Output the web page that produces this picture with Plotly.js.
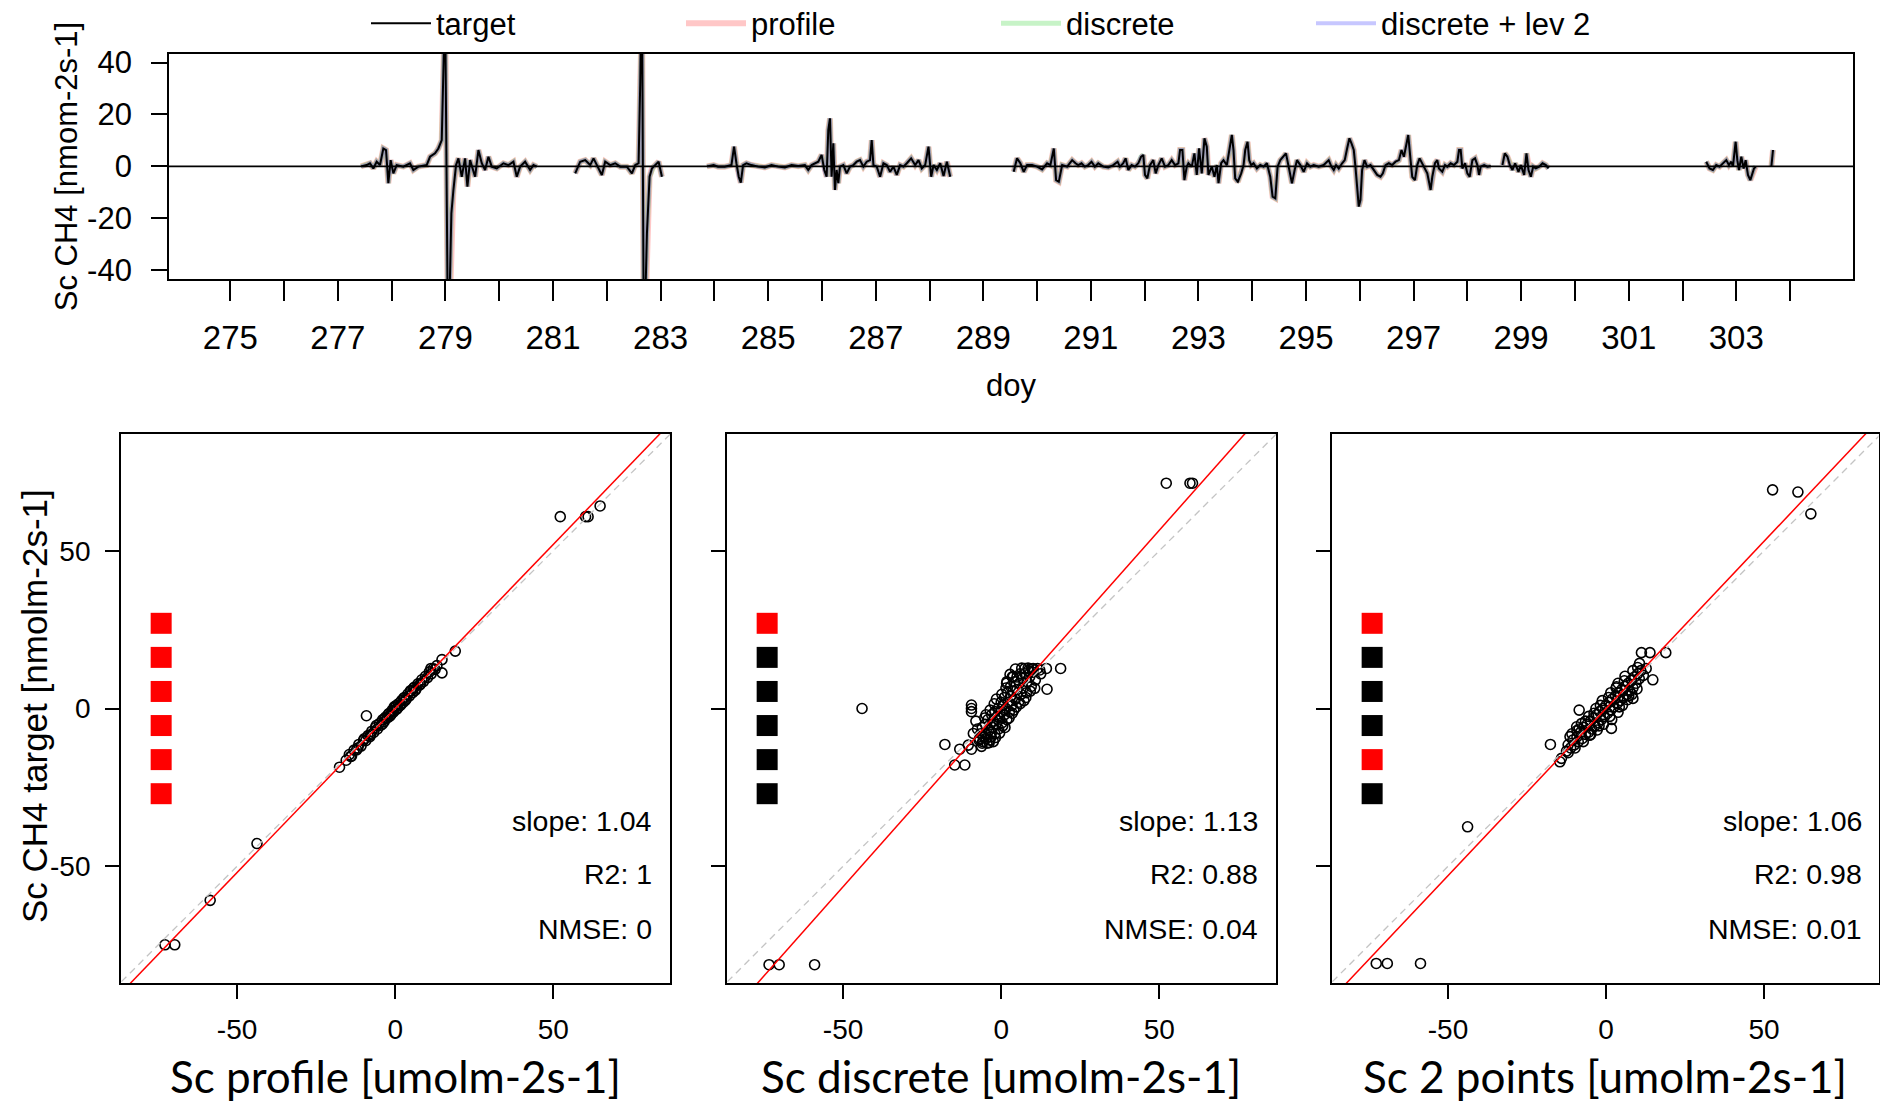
<!DOCTYPE html>
<html><head><meta charset="utf-8">
<script src="https://cdn.plot.ly/plotly-3.0.1.min.js"></script>
<style>html,body{margin:0;padding:0;background:#fff;}#chart{width:1880px;height:1105px;}</style>
</head><body><div id="chart"></div>
<script>
// ---------- time series (top panel) ----------
const doy = [
277.43,277.535,277.597,277.659,277.721,277.783,277.845,277.895,277.938,277.981,
278.031,278.093,278.217,278.341,278.403,278.496,278.651,278.713,278.806,278.868,
278.931,278.962,278.98,278.993,279.05,279.068,279.086,279.11,279.148,279.197,
279.241,279.303,279.365,279.408,279.458,279.551,279.613,279.675,279.737,279.799,
279.861,279.954,280.078,280.171,280.264,280.326,280.388,280.481,280.574,280.636,
280.698,null,
281.412,281.505,281.598,281.691,281.753,281.846,281.908,281.97,282.063,282.156,
282.249,282.373,282.467,282.529,282.591,282.622,282.64,282.655,282.69,282.72,
282.746,282.795,282.839,282.87,282.963,283.025,null,
283.862,283.986,284.068,284.193,284.317,284.366,284.41,284.453,284.491,284.534,
284.596,284.689,284.814,284.938,285.062,285.186,285.311,285.435,285.559,285.683,
285.745,285.807,285.932,285.994,286.043,286.087,286.118,286.149,286.18,286.211,
286.242,286.273,286.304,286.335,286.398,286.46,286.522,286.584,286.646,286.708,
286.77,286.832,286.894,286.925,286.957,287.019,287.081,287.143,287.205,287.267,
287.329,287.391,287.453,287.516,287.578,287.658,287.733,287.795,287.857,287.919,
287.981,288.031,288.075,288.137,288.199,288.261,288.323,288.385,null,
289.565,289.627,289.689,289.752,289.814,289.907,290.0,290.093,290.186,290.248,
290.311,290.354,290.404,290.466,290.559,290.652,290.714,290.764,290.826,290.888,
290.95,291.012,291.075,291.137,291.23,291.323,291.416,291.497,291.54,291.602,
291.646,291.696,291.758,291.82,291.882,291.932,291.975,292.006,292.05,292.099,
292.161,292.205,292.255,292.317,292.379,292.441,292.503,292.565,292.627,292.658,
292.702,292.739,292.783,292.814,292.876,292.925,292.969,293.012,293.062,293.112,
293.155,293.186,293.248,293.298,293.342,293.373,293.422,293.466,293.528,293.571,
293.621,293.652,293.683,293.733,293.795,293.839,293.87,293.913,293.944,293.981,
294.025,294.087,294.149,294.211,294.273,294.335,294.379,294.429,294.472,294.522,
294.584,294.627,294.677,294.739,294.789,294.832,294.894,294.957,295.019,295.081,
295.143,295.236,295.329,295.422,295.472,295.516,295.559,295.609,295.671,295.72,
295.764,295.807,295.845,295.888,295.919,295.95,295.981,296.012,296.043,296.087,
296.137,296.199,296.261,296.323,296.385,296.429,296.478,296.54,296.602,296.665,
296.727,296.776,296.82,296.863,296.901,296.944,296.975,297.025,297.068,297.112,
297.161,297.211,297.255,297.317,297.348,297.398,297.441,297.472,297.534,297.584,
297.627,297.689,297.752,297.814,297.845,297.876,297.907,297.957,298.0,298.043,
298.093,298.143,298.186,298.217,298.248,298.311,298.373,298.435,null,
298.652,298.696,298.745,298.789,298.839,298.888,298.95,298.994,299.056,299.099,
299.137,299.18,299.224,299.273,299.335,299.398,299.46,299.509,null,
302.441,302.503,302.565,302.627,302.689,302.752,302.814,302.863,302.907,302.938,
302.988,303.019,303.05,303.093,303.137,303.174,303.217,303.261,303.298,303.329,
303.36,null,303.652,303.683
];
const target = [
0,0.5,1.2,-0.8,1.8,0.5,6.9,6.3,-6.5,2.4,
-2.7,0.5,-0.1,1.2,-1.4,-0.1,0.5,3.7,5.0,6.9,
10.1,37.1,60.5,64.2,-74.9,-60.8,-42.8,-18.1,-9.1,0.5,
3.1,-4.0,3.1,-7.8,2.4,-4.0,6.3,1.2,-1.4,3.7,
-0.1,-0.8,1.2,0.5,1.8,-4.0,-0.1,1.8,-1.4,0.5,
-0.1,null,
-2.7,1.8,2.4,0.5,3.1,-0.8,-3.3,1.8,0.5,1.2,
-0.1,-0.1,-2.7,0.5,1.2,32.6,60.5,60.8,-74.9,-48,
-25.8,-4.0,-0.8,-0.1,1.8,-4.0,null,
0,0.5,-0.1,-0.1,0.5,7.6,1.2,-4.0,-6.3,0.5,
1.2,0.5,-0.1,-0.4,0.5,-0.1,-0.4,0.5,0.1,0.5,
-1.4,0.5,1.8,4.4,-1.4,-4.0,14.0,18.5,-4.0,8.9,
-9.1,-1.4,-6.5,-0.1,0.5,-2.7,-0.1,0.5,1.8,2.4,
-0.1,1.8,2.4,10.1,0.5,-0.1,-4.0,1.2,0.5,-2.1,
-0.1,-3.3,0.5,-0.1,1.2,3.1,0.5,2.4,-0.8,0.5,
7.6,-4.0,0.5,-1.4,1.2,-3.7,1.8,-4.0,null,
-2.1,3.1,1.2,-2.1,0.5,0.5,-0.1,-1.2,1.2,0.5,
6.9,-5.3,-5.9,0.5,-0.1,2.4,1.2,0.5,1.2,-0.1,
0.5,1.8,-0.1,1.2,-0.1,-0.4,0.5,1.8,-0.1,1.2,
3.1,-1.4,0.5,-0.1,1.2,3.7,4.4,-3.3,-4.6,0.5,
2.4,-2.7,0.5,3.1,-0.1,0.5,2.4,0.5,1.2,6.3,
6.3,-5.3,-0.1,1.2,-0.1,5.0,-3.3,6.9,-2.7,10.8,
7.6,-3.3,-0.1,-4.0,0.5,-6.5,1.2,2.4,0.5,6.3,
12.1,6.3,-4.6,-5.9,-2.7,0.5,6.3,9.5,2.4,0.5,
1.2,-0.8,0.5,-0.1,1.2,-4.0,-11.7,-12.3,-0.1,2.4,
3.7,5.0,-0.1,-6.5,-1.4,2.4,0.5,-2.1,1.2,-0.1,
0.5,-0.1,0.5,2.4,-0.1,-1.4,0.5,-0.8,1.2,2.4,
6.9,10.8,8.9,6.3,-0.1,-6.5,-15.5,-13.0,-1.4,2.4,
-0.1,0.5,-1.4,-3.3,-4.0,-2.7,0.5,1.2,0.5,1.8,
2.4,6.3,3.7,7.6,12.1,2.4,-4.0,-5.3,0.5,3.1,
1.2,-0.8,-2.7,-9.1,-4.0,1.2,2.4,-0.8,-2.1,0.5,
-0.1,1.2,0.5,1.8,6.3,6.3,-0.8,1.2,-2.7,-4.0,
2.4,3.1,0.5,-3.3,-0.1,0.5,-0.1,0.1,null,
0.5,5.0,3.7,0.5,-1.4,1.2,-2.1,0.5,-3.3,5.0,
-1.4,-4.0,-0.1,-0.8,-0.1,1.2,0.5,-0.8,null,
1.8,-0.8,-1.4,0.5,-0.1,1.2,2.4,0.5,1.8,-0.1,
9.5,2.4,-1.4,3.7,-0.8,2.4,-3.3,-5.3,-2.7,-0.8,
-0.1,null,-0.1,6.3
];
// the three estimates are indistinguishable from the target at this scale
const profile = [
0,0.5,1.2,-0.8,1.8,0.5,6.9,6.3,-6.5,2.4,
-2.7,0.5,-0.1,1.2,-1.4,-0.1,0.5,3.7,5.0,6.9,
10.1,37.1,60.5,64.2,-74.9,-60.8,-42.8,-18.1,-9.1,0.5,
3.1,-4.0,3.1,-7.8,2.4,-4.0,6.3,1.2,-1.4,3.7,
-0.1,-0.8,1.2,0.5,1.8,-4.0,-0.1,1.8,-1.4,0.5,
-0.1,null,
-2.7,1.8,2.4,0.5,3.1,-0.8,-3.3,1.8,0.5,1.2,
-0.1,-0.1,-2.7,0.5,1.2,32.6,60.5,60.8,-74.9,-48,
-25.8,-4.0,-0.8,-0.1,1.8,-4.0,null,
0,0.5,-0.1,-0.1,0.5,7.6,1.2,-4.0,-6.3,0.5,
1.2,0.5,-0.1,-0.4,0.5,-0.1,-0.4,0.5,0.1,0.5,
-1.4,0.5,1.8,4.4,-1.4,-4.0,14.0,18.5,-4.0,8.9,
-9.1,-1.4,-6.5,-0.1,0.5,-2.7,-0.1,0.5,1.8,2.4,
-0.1,1.8,2.4,10.1,0.5,-0.1,-4.0,1.2,0.5,-2.1,
-0.1,-3.3,0.5,-0.1,1.2,3.1,0.5,2.4,-0.8,0.5,
7.6,-4.0,0.5,-1.4,1.2,-3.7,1.8,-4.0,null,
-2.1,3.1,1.2,-2.1,0.5,0.5,-0.1,-1.2,1.2,0.5,
6.9,-5.3,-5.9,0.5,-0.1,2.4,1.2,0.5,1.2,-0.1,
0.5,1.8,-0.1,1.2,-0.1,-0.4,0.5,1.8,-0.1,1.2,
3.1,-1.4,0.5,-0.1,1.2,3.7,4.4,-3.3,-4.6,0.5,
2.4,-2.7,0.5,3.1,-0.1,0.5,2.4,0.5,1.2,6.3,
6.3,-5.3,-0.1,1.2,-0.1,5.0,-3.3,6.9,-2.7,10.8,
7.6,-3.3,-0.1,-4.0,0.5,-6.5,1.2,2.4,0.5,6.3,
12.1,6.3,-4.6,-5.9,-2.7,0.5,6.3,9.5,2.4,0.5,
1.2,-0.8,0.5,-0.1,1.2,-4.0,-11.7,-12.3,-0.1,2.4,
3.7,5.0,-0.1,-6.5,-1.4,2.4,0.5,-2.1,1.2,-0.1,
0.5,-0.1,0.5,2.4,-0.1,-1.4,0.5,-0.8,1.2,2.4,
6.9,10.8,8.9,6.3,-0.1,-6.5,-15.5,-13.0,-1.4,2.4,
-0.1,0.5,-1.4,-3.3,-4.0,-2.7,0.5,1.2,0.5,1.8,
2.4,6.3,3.7,7.6,12.1,2.4,-4.0,-5.3,0.5,3.1,
1.2,-0.8,-2.7,-9.1,-4.0,1.2,2.4,-0.8,-2.1,0.5,
-0.1,1.2,0.5,1.8,6.3,6.3,-0.8,1.2,-2.7,-4.0,
2.4,3.1,0.5,-3.3,-0.1,0.5,-0.1,0.1,null,
0.5,5.0,3.7,0.5,-1.4,1.2,-2.1,0.5,-3.3,5.0,
-1.4,-4.0,-0.1,-0.8,-0.1,1.2,0.5,-0.8,null,
1.8,-0.8,-1.4,0.5,-0.1,1.2,2.4,0.5,1.8,-0.1,
9.5,2.4,-1.4,3.7,-0.8,2.4,-3.3,-5.3,-2.7,-0.8,
-0.1,null,-0.1,6.3
];
const discrete = [
0,0.5,1.2,-0.8,1.8,0.5,6.9,6.3,-6.5,2.4,
-2.7,0.5,-0.1,1.2,-1.4,-0.1,0.5,3.7,5.0,6.9,
10.1,37.1,60.5,64.2,-74.9,-60.8,-42.8,-18.1,-9.1,0.5,
3.1,-4.0,3.1,-7.8,2.4,-4.0,6.3,1.2,-1.4,3.7,
-0.1,-0.8,1.2,0.5,1.8,-4.0,-0.1,1.8,-1.4,0.5,
-0.1,null,
-2.7,1.8,2.4,0.5,3.1,-0.8,-3.3,1.8,0.5,1.2,
-0.1,-0.1,-2.7,0.5,1.2,32.6,60.5,60.8,-74.9,-48,
-25.8,-4.0,-0.8,-0.1,1.8,-4.0,null,
0,0.5,-0.1,-0.1,0.5,7.6,1.2,-4.0,-6.3,0.5,
1.2,0.5,-0.1,-0.4,0.5,-0.1,-0.4,0.5,0.1,0.5,
-1.4,0.5,1.8,4.4,-1.4,-4.0,14.0,18.5,-4.0,8.9,
-9.1,-1.4,-6.5,-0.1,0.5,-2.7,-0.1,0.5,1.8,2.4,
-0.1,1.8,2.4,10.1,0.5,-0.1,-4.0,1.2,0.5,-2.1,
-0.1,-3.3,0.5,-0.1,1.2,3.1,0.5,2.4,-0.8,0.5,
7.6,-4.0,0.5,-1.4,1.2,-3.7,1.8,-4.0,null,
-2.1,3.1,1.2,-2.1,0.5,0.5,-0.1,-1.2,1.2,0.5,
6.9,-5.3,-5.9,0.5,-0.1,2.4,1.2,0.5,1.2,-0.1,
0.5,1.8,-0.1,1.2,-0.1,-0.4,0.5,1.8,-0.1,1.2,
3.1,-1.4,0.5,-0.1,1.2,3.7,4.4,-3.3,-4.6,0.5,
2.4,-2.7,0.5,3.1,-0.1,0.5,2.4,0.5,1.2,6.3,
6.3,-5.3,-0.1,1.2,-0.1,5.0,-3.3,6.9,-2.7,10.8,
7.6,-3.3,-0.1,-4.0,0.5,-6.5,1.2,2.4,0.5,6.3,
12.1,6.3,-4.6,-5.9,-2.7,0.5,6.3,9.5,2.4,0.5,
1.2,-0.8,0.5,-0.1,1.2,-4.0,-11.7,-12.3,-0.1,2.4,
3.7,5.0,-0.1,-6.5,-1.4,2.4,0.5,-2.1,1.2,-0.1,
0.5,-0.1,0.5,2.4,-0.1,-1.4,0.5,-0.8,1.2,2.4,
6.9,10.8,8.9,6.3,-0.1,-6.5,-15.5,-13.0,-1.4,2.4,
-0.1,0.5,-1.4,-3.3,-4.0,-2.7,0.5,1.2,0.5,1.8,
2.4,6.3,3.7,7.6,12.1,2.4,-4.0,-5.3,0.5,3.1,
1.2,-0.8,-2.7,-9.1,-4.0,1.2,2.4,-0.8,-2.1,0.5,
-0.1,1.2,0.5,1.8,6.3,6.3,-0.8,1.2,-2.7,-4.0,
2.4,3.1,0.5,-3.3,-0.1,0.5,-0.1,0.1,null,
0.5,5.0,3.7,0.5,-1.4,1.2,-2.1,0.5,-3.3,5.0,
-1.4,-4.0,-0.1,-0.8,-0.1,1.2,0.5,-0.8,null,
1.8,-0.8,-1.4,0.5,-0.1,1.2,2.4,0.5,1.8,-0.1,
9.5,2.4,-1.4,3.7,-0.8,2.4,-3.3,-5.3,-2.7,-0.8,
-0.1,null,-0.1,6.3
];
const discreteLev2 = [
0,0.5,1.2,-0.8,1.8,0.5,6.9,6.3,-6.5,2.4,
-2.7,0.5,-0.1,1.2,-1.4,-0.1,0.5,3.7,5.0,6.9,
10.1,37.1,60.5,64.2,-74.9,-60.8,-42.8,-18.1,-9.1,0.5,
3.1,-4.0,3.1,-7.8,2.4,-4.0,6.3,1.2,-1.4,3.7,
-0.1,-0.8,1.2,0.5,1.8,-4.0,-0.1,1.8,-1.4,0.5,
-0.1,null,
-2.7,1.8,2.4,0.5,3.1,-0.8,-3.3,1.8,0.5,1.2,
-0.1,-0.1,-2.7,0.5,1.2,32.6,60.5,60.8,-74.9,-48,
-25.8,-4.0,-0.8,-0.1,1.8,-4.0,null,
0,0.5,-0.1,-0.1,0.5,7.6,1.2,-4.0,-6.3,0.5,
1.2,0.5,-0.1,-0.4,0.5,-0.1,-0.4,0.5,0.1,0.5,
-1.4,0.5,1.8,4.4,-1.4,-4.0,14.0,18.5,-4.0,8.9,
-9.1,-1.4,-6.5,-0.1,0.5,-2.7,-0.1,0.5,1.8,2.4,
-0.1,1.8,2.4,10.1,0.5,-0.1,-4.0,1.2,0.5,-2.1,
-0.1,-3.3,0.5,-0.1,1.2,3.1,0.5,2.4,-0.8,0.5,
7.6,-4.0,0.5,-1.4,1.2,-3.7,1.8,-4.0,null,
-2.1,3.1,1.2,-2.1,0.5,0.5,-0.1,-1.2,1.2,0.5,
6.9,-5.3,-5.9,0.5,-0.1,2.4,1.2,0.5,1.2,-0.1,
0.5,1.8,-0.1,1.2,-0.1,-0.4,0.5,1.8,-0.1,1.2,
3.1,-1.4,0.5,-0.1,1.2,3.7,4.4,-3.3,-4.6,0.5,
2.4,-2.7,0.5,3.1,-0.1,0.5,2.4,0.5,1.2,6.3,
6.3,-5.3,-0.1,1.2,-0.1,5.0,-3.3,6.9,-2.7,10.8,
7.6,-3.3,-0.1,-4.0,0.5,-6.5,1.2,2.4,0.5,6.3,
12.1,6.3,-4.6,-5.9,-2.7,0.5,6.3,9.5,2.4,0.5,
1.2,-0.8,0.5,-0.1,1.2,-4.0,-11.7,-12.3,-0.1,2.4,
3.7,5.0,-0.1,-6.5,-1.4,2.4,0.5,-2.1,1.2,-0.1,
0.5,-0.1,0.5,2.4,-0.1,-1.4,0.5,-0.8,1.2,2.4,
6.9,10.8,8.9,6.3,-0.1,-6.5,-15.5,-13.0,-1.4,2.4,
-0.1,0.5,-1.4,-3.3,-4.0,-2.7,0.5,1.2,0.5,1.8,
2.4,6.3,3.7,7.6,12.1,2.4,-4.0,-5.3,0.5,3.1,
1.2,-0.8,-2.7,-9.1,-4.0,1.2,2.4,-0.8,-2.1,0.5,
-0.1,1.2,0.5,1.8,6.3,6.3,-0.8,1.2,-2.7,-4.0,
2.4,3.1,0.5,-3.3,-0.1,0.5,-0.1,0.1,null,
0.5,5.0,3.7,0.5,-1.4,1.2,-2.1,0.5,-3.3,5.0,
-1.4,-4.0,-0.1,-0.8,-0.1,1.2,0.5,-0.8,null,
1.8,-0.8,-1.4,0.5,-0.1,1.2,2.4,0.5,1.8,-0.1,
9.5,2.4,-1.4,3.7,-0.8,2.4,-3.3,-5.3,-2.7,-0.8,
-0.1,null,-0.1,6.3
];
const seriesNames = ['target', 'profile', 'discrete', 'discrete + lev 2'];
const doyTickLabels = [275, 277, 279, 281, 283, 285, 287, 289, 291, 293, 295, 297, 299, 301, 303];
const doyMinorTicks = [276, 278, 280, 282, 284, 286, 288, 290, 292, 294, 296, 298, 300, 302, 304];
const fluxTicks = [-40, -20, 0, 20, 40];
const scatterTicks = [-50, 0, 50];

// ---------- scatter panels ----------
const profileX = [52.2,60.2,61,64.8,19,14.8,14.8,11.3,-9.1,-17.6,-14.1,-43.7,-58.5,-72.8,-69.7,
-15.5,-14.5,-13.8,-13,-12.2,-11.5,-10.8,-10,-9.3,-8.6,-8,-7.4,-6.8,-6.2,-5.6,-5,-4.5,-4,-3.5,-3,
-2.5,-2,-1.5,-1,-0.5,0,0.5,1,1.5,2,2.5,3,3.5,4,4.5,5,5.5,6,6.6,7.2,7.8,8.4,9,9.6,10.2,10.8,11.4,12,12.6,13.2,
-6,-4,-2.2,-1.2,0.3,1.8,3.2,4.8,6.3,-3.3,-1.8,2.7,0.8,-0.3,5.8,8,-7.8,-9.8,-11.8];
const profileTarget = [60.8,60.8,60.8,64.2,18.2,15.5,11.3,12.7,-2.3,-18.6,-15.2,-42.8,-60.8,-74.9,-74.9,
-16.4,-14.6,-15.1,-13.2,-13.1,-11.4,-11.9,-10.1,-10.2,-8.6,-8.9,-7.2,-7.6,-6,-6.5,-4.8,-5.3,-3.6,-4.2,-2.7,
-3,-1.6,-2.1,-0.6,-1.1,0.4,-0.2,1.5,0.9,2.5,1.9,3.5,3,4.6,4,5.6,5,6.7,6.2,7.8,7.5,9.1,8.6,10.2,9.8,11.6,11,12.6,12.4,13.6,
-5.4,-4.9,-1.9,-1.8,0.9,1.2,2.6,5.6,5.7,-3.1,-2.5,3.3,0.2,0.5,6.4,7.8,-8.3,-9.6,-12.5];

const discreteX = [52.2,59.7,60.5,-73.4,-70.2,-59,-44,-17.8,-14.7,-11.5,-13.1,-9.4,-9.4,-9.4,-9.4,
14.3,18.8,14.5,10.6,7.5,10.1,12.2,-10.4,-8.8,-3.6,1.7,3.8,
-7,-6.5,-6,-6,-5.5,-5,-5,-4.5,-4.2,-4,-3.5,-3.2,-3,-2.8,-2.5,-2,-2,-1.5,-1.2,-1,-0.8,-0.5,0,0,0.3,0.6,
1,1,1.5,1.8,2,2.2,2.6,3,3,3.4,3.8,4,4.2,4.5,5,5,5.5,5.8,6,6.2,6.8,7,7.5,7.8,8.2,8.6,9,9.5,10,10.8,11.5,12.5,
-8,-7.5,-2.5,1.5,3.5,-1.5,-6.8,-4.8,
-6.2,-5.8,-4.8,-3.8,-3,-1.8,-0.5,0.5,1.2,2.5,3.5,4.8,6,7.2,8,9.2,-5.2,-3.5,-2.2,0.2,1.8,2.8,4.5,6.5,8.5,9.8];
const discreteTarget = [71.4,71.4,71.4,-81.2,-81.2,-81.2,0,-11.4,-17.9,-17.9,-12.9,-12.9,0,-1,1.1,
12.7,12.7,6.1,6.4,12.7,12.7,12.2,-11.6,-7.9,-10,8,10.1,
-10,-8,-11,-6,-9,-5,-8,-11,-3.5,-7,-5,-9,-2,-6,-4,-8,-1,-5,-2.5,0,-6.5,-3,-1,2,-4.5,1,
-2,3.5,0,-3.5,5,2,-1,4,7,1,5.5,-0.5,8.5,3,6,10,2,8,11,4.5,9.5,6.5,11,3.5,8.5,12,10,7,11.5,9,12.7,11,
-4,-6.5,-10.5,6.5,10,3,-9.5,-2,
-12,-10.5,-9.5,-10.8,-7.5,-9.2,-7.8,-5.5,-6,-3,-1.5,0.5,1.5,2.5,5,5.5,-3,-0.5,1.5,4.5,8.5,10.8,12.5,12.8,12.8,12.5];

const twoPointX = [52.7,60.7,64.8,-43.8,-72.7,-69.2,-58.7,-17.6,-8.5,14.8,18.9,13.9,11.2,-14.6,-14.1,-11.4,-9.3,1.7,3.3,10.6,12.7,8.5,
-12.5,-12,-11.2,-10.5,-10,-9.2,-8.8,-8,-7.5,-7,-6.5,-6,-5.5,-5,-4.5,-4,-3.5,-3,-2.5,-2,-1.5,-1,-0.5,0,0.5,1,1.5,2,2.5,
3,3.5,4,4.5,5,5.5,6,6.5,7,7.5,8,8.5,9,9.5,10,10.5,11,11.8,
-6.5,-3.8,-1.8,0.8,3.2,5.8,-8.5,-5.2,-2.2,1.2,4.2,7.2,-10.8,
-12,-9.8,-7.2,-4.8,-2.8,-0.8,1.8,3.8,5.2,6.8,8.2,9.8,-9.2,-7.8,-5.5,-3.2,-1.2,1.5,3.8,6,8.5,10];
const twoPointTarget = [69.3,68.6,61.7,-37.5,-80.8,-80.8,-80.8,-11.4,-0.5,9.1,17.7,17.7,17.7,-16.9,-15.8,-8.9,-5.8,-6.3,6.9,14.3,12.7,3.2,
-13.5,-11.5,-12.5,-10,-11.5,-9,-10.5,-7.5,-9.5,-6,-8.2,-5,-7.5,-4,-6.5,-3,-5.5,-2,-4.5,-1,-3.5,0,-2.5,1,-1.5,2,-0.5,3,0.5,
4,1.5,5,2.5,6,3.5,7,4.5,8,5.5,9,6.5,10,8,11,9.5,12,10.5,
-4,-1.5,1,3.5,6.5,8.8,-6.5,-8.5,-5.5,-2.5,0.5,4,-8,
-14,-12.5,-10.5,-8.2,-6.8,-5,-3.5,-1.2,1,2.8,4.5,6.2,-7,-4.8,-2.5,0,2.5,5,8,10.2,12,13];

const panelTitles = ['Sc profile [umolm-2s-1]', 'Sc discrete [umolm-2s-1]', 'Sc 2 points [umolm-2s-1]'];
const scatterYTitle = 'Sc CH4 target [nmolm-2s-1]';
const slopes = [1.04, 1.13, 1.06];
const r2Labels = ['1', '0.88', '0.98'];
const nmseLabels = ['0', '0.04', '0.01'];
// measurement levels used by each method (top to bottom), 1 = used (red)
const levelsUsed = [[1,1,1,1,1,1],[1,0,0,0,0,0],[1,0,0,0,1,0]];

// ---------- build ----------
const RF = 'Liberation Sans, Arial, sans-serif';
const TF = 'Lato, Open Sans, sans-serif';
const W = 1880, H = 1105;
const px = v => v / W, py = v => 1 - v / H;
const hy = v => String(v).replace('\u2212', '-');

const traces = [];
const tsStyles = [
  {y: profile, name: seriesNames[1], color: 'rgba(255,0,0,0.22)', width: 6, rank: 2},
  {y: discrete, name: seriesNames[2], color: 'rgba(0,200,0,0.22)', width: 5, rank: 3},
  {y: discreteLev2, name: seriesNames[3], color: 'rgba(0,0,255,0.22)', width: 4, rank: 4},
  {y: target, name: seriesNames[0], color: '#000000', width: 2, rank: 1}
];
tsStyles.forEach(s => traces.push({
  type: 'scatter', mode: 'lines', x: doy, y: s.y, name: s.name,
  line: {color: s.color, width: s.width}, legendrank: s.rank,
  xaxis: 'x', yaxis: 'y', hoverinfo: 'skip'
}));

const scatterSets = [[profileX, profileTarget], [discreteX, discreteTarget], [twoPointX, twoPointTarget]];
const RX = [-86.7, 86.9], RY = [-87, 87];
const shapes = [{type: 'line', xref: 'x domain', yref: 'y', x0: 0, x1: 1, y0: 0, y1: 0,
  line: {color: '#000', width: 1.6}}];
const annotations = [];
const xDomains = [[121, 670], [727, 1276], [1332, 1878.5]];
scatterSets.forEach((set, i) => {
  const n = i + 2;
  traces.push({type: 'scatter', mode: 'markers', x: set[0], y: set[1], showlegend: false,
    xaxis: 'x' + n, yaxis: 'y' + n, hoverinfo: 'skip',
    marker: {symbol: 'circle-open', size: 10, color: '#000', line: {width: 1.6, color: '#000'}}});
  const used = levelsUsed[i];
  traces.push({type: 'scatter', mode: 'markers', showlegend: false, hoverinfo: 'skip',
    xaxis: 'x' + n, yaxis: 'y' + n,
    x: used.map(() => -74), y: used.map((u, k) => 27 - 10.8 * k),
    marker: {symbol: 'square', size: 21, color: used.map(u => u ? '#ff0000' : '#000000'), line: {width: 0}}});
  shapes.push({type: 'line', xref: 'x' + n, yref: 'y' + n, x0: -100, x1: 100, y0: -100, y1: 100,
    line: {color: '#c4c4c4', width: 1.3, dash: '7px,5px'}});
  shapes.push({type: 'line', xref: 'x' + n, yref: 'y' + n, x0: -100, x1: 100,
    y0: -100 * slopes[i], y1: 100 * slopes[i], line: {color: '#ff0000', width: 1.5}});
  const labs = ['slope: ' + slopes[i].toFixed(2), 'R2: ' + r2Labels[i], 'NMSE: ' + nmseLabels[i]];
  const ys = [-35.8, -52.4, -69.8];
  labs.forEach((t, k) => annotations.push({xref: 'x' + n, yref: 'y' + n, x: 81.7, y: ys[k],
    text: t, showarrow: false, xanchor: 'right', yanchor: 'middle', font: {family: RF, size: 28.5, color: '#000'}}));
  // x-axis title of the panel
  const d = xDomains[i];
  annotations.push({xref: 'paper', yref: 'paper', x: px((d[0] + Math.min(d[1], d[0] + 549)) / 2), y: py(1076),
    text: panelTitles[i], showarrow: false, xanchor: 'center', yanchor: 'middle',
    font: {family: TF, size: 44, color: '#000'}});
});
annotations.push({xref: 'paper', yref: 'paper', x: px(34), y: py(706), text: scatterYTitle, textangle: -90,
  showarrow: false, xanchor: 'center', yanchor: 'middle', font: {family: RF, size: 35, color: '#000'}});

const axBase = {showgrid: false, zeroline: false, showline: true, mirror: true, linecolor: '#000',
  linewidth: 1.8, ticks: 'outside', tickcolor: '#000', tickwidth: 1.5, color: '#000', automargin: false};

const layout = {
  width: W, height: H, margin: {l: 0, r: 0, t: 0, b: 0, autoexpand: false}, paper_bgcolor: '#fff', plot_bgcolor: '#fff',
  font: {family: RF, color: '#000'},
  showlegend: true,
  legend: {orientation: 'h', x: px(366), xanchor: 'left', y: py(23.5), yanchor: 'middle',
    font: {family: RF, size: 31, color: '#000'}, entrywidth: 240, entrywidthmode: 'pixels',
    itemwidth: 60, bgcolor: 'rgba(0,0,0,0)', traceorder: 'normal'},
  xaxis: Object.assign({}, axBase, {domain: [px(169), px(1853)], anchor: 'y', range: [273.86, 305.17],
    tickmode: 'array', tickvals: doyTickLabels, ticktext: doyTickLabels.map(String),
    ticklen: 20, ticklabelstandoff: 8, tickfont: {size: 33},
    minor: {tickmode: 'array', tickvals: doyMinorTicks, ticks: 'outside', ticklen: 20, tickwidth: 1.5, tickcolor: '#000', showgrid: false},
    title: {text: 'doy', font: {size: 31}, standoff: 20}}),
  yaxis: Object.assign({}, axBase, {domain: [py(279), py(54)], anchor: 'x', range: [-43.4, 43.3],
    tickmode: 'array', tickvals: fluxTicks, ticktext: fluxTicks.map(hy), ticklen: 16, ticklabelstandoff: 13, tickfont: {size: 31},
    title: {text: 'Sc CH4 [nmom-2s-1]', font: {size: 31}, standoff: 0}}),
  shapes: shapes, annotations: annotations
};
xDomains.forEach((d, i) => {
  const n = i + 2;
  layout['xaxis' + n] = Object.assign({}, axBase, {domain: [px(d[0]), px(d[1])], anchor: 'y' + n,
    range: i === 2 ? [-86.7, 86.2] : RX, tickmode: 'array', tickvals: scatterTicks, ticktext: scatterTicks.map(hy),
    ticklen: 14, ticklabelstandoff: 6, tickfont: {size: 28}});
  layout['yaxis' + n] = Object.assign({}, axBase, {domain: [py(983), py(434)], anchor: 'x' + n,
    range: RY, tickmode: 'array', tickvals: scatterTicks, ticktext: scatterTicks.map(hy),
    ticklen: 14, ticklabelstandoff: 9, tickfont: {size: 28},
    showticklabels: i === 0});
});

Plotly.newPlot('chart', traces, layout, {displayModeBar: false, responsive: false});
</script>
</body></html>
